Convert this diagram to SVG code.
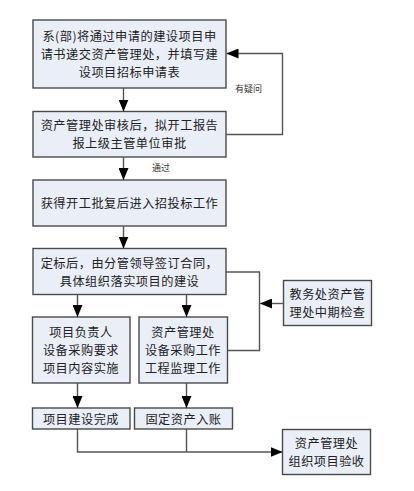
<svg xmlns="http://www.w3.org/2000/svg" width="414" height="491" viewBox="0 0 414 491">
<defs>
<style>
.box{fill:#E9EEF7;stroke:#4a4a4a;stroke-width:1.4}
.t{font-family:"Noto Sans CJK SC","Noto Sans CJK JP",sans-serif;font-size:12.2px;letter-spacing:0.5px;fill:#222;text-anchor:middle;dominant-baseline:central}
.s{font-family:"Noto Sans CJK SC","Noto Sans CJK JP",sans-serif;font-size:9px;fill:#333;text-anchor:middle;dominant-baseline:central}
.c{fill:none;stroke:#555;stroke-width:1.4}
</style>
<marker id="ah" markerUnits="userSpaceOnUse" markerWidth="12" markerHeight="10" viewBox="0 0 12 10" refX="12" refY="5" orient="auto">
<polygon points="0,0 12,5 0,10" fill="#000"/>
</marker>
</defs>
<rect width="414" height="491" fill="#fff"/>
<g id="n1"><rect class="box" x="33" y="20" width="193" height="68"/>
<text class="t" x="129.5" y="36">系(部)将通过申请的建设项目申</text>
<text class="t" x="129.5" y="54">请书递交资产管理处，并填写建</text>
<text class="t" x="129.5" y="72">设项目招标申请表</text></g>
<g id="n2"><rect class="box" x="33" y="111.5" width="193" height="45.5"/>
<text class="t" x="129.5" y="125">资产管理处审核后，拟开工报告</text>
<text class="t" x="129.5" y="143">报上级主管单位审批</text></g>
<g id="n3"><rect class="box" x="33" y="180" width="193" height="46"/>
<text class="t" x="129.5" y="202.7">获得开工批复后进入招投标工作</text></g>
<g id="n4"><rect class="box" x="33" y="248.5" width="193" height="46"/>
<text class="t" x="129.5" y="262.5">定标后，由分管领导签订合同，</text>
<text class="t" x="129.5" y="280.5">具体组织落实项目的建设</text></g>
<g id="n5"><rect class="box" x="283.5" y="280.5" width="88" height="45"/>
<text class="t" x="327.5" y="294">教务处资产管</text>
<text class="t" x="327.5" y="312">理处中期检查</text></g>
<g id="n6"><rect class="box" x="32.5" y="317" width="97.5" height="66"/>
<text class="t" x="81" y="332">项目负责人</text>
<text class="t" x="81" y="350">设备采购要求</text>
<text class="t" x="81" y="368">项目内容实施</text></g>
<g id="n7"><rect class="box" x="139" y="317" width="88.5" height="66"/>
<text class="t" x="183" y="332">资产管理处</text>
<text class="t" x="183" y="350">设备采购工作</text>
<text class="t" x="183" y="368">工程监理工作</text></g>
<g id="n8"><rect class="box" x="32.5" y="408" width="97.5" height="21"/>
<text class="t" x="81" y="418.5">项目建设完成</text></g>
<g id="n9"><rect class="box" x="134.5" y="408" width="98" height="21"/>
<text class="t" x="183.5" y="418.5">固定资产入账</text></g>
<g id="n10"><rect class="box" x="282.5" y="429.5" width="88" height="45"/>
<text class="t" x="326.5" y="443">资产管理处</text>
<text class="t" x="326.5" y="461">组织项目验收</text></g>
<g id="connectors">
<path class="c" d="M123.5,88 V111.5" marker-end="url(#ah)"/>
<path class="c" d="M226,134.5 H282.5 V53.5 H226.5" marker-end="url(#ah)"/>
<path class="c" d="M123.5,157 V180" marker-end="url(#ah)"/>
<path class="c" d="M123.5,226 V248.5" marker-end="url(#ah)"/>
<path class="c" d="M77.5,294.5 V317" marker-end="url(#ah)"/>
<path class="c" d="M186.5,294.5 V317" marker-end="url(#ah)"/>
<path class="c" d="M226,272 H259.5 V350.5 H227.5"/>
<path class="c" d="M283.5,303.5 H260" marker-end="url(#ah)"/>
<path class="c" d="M77.5,383 V408" marker-end="url(#ah)"/>
<path class="c" d="M186.5,383 V408" marker-end="url(#ah)"/>
<path class="c" d="M77.5,429 V452 H282.5" marker-end="url(#ah)"/>
<path class="c" d="M186.5,429 V452"/>
<text class="s" x="248.5" y="88">有疑问</text>
<text class="s" x="161" y="167">通过</text>
</g>
</svg>
